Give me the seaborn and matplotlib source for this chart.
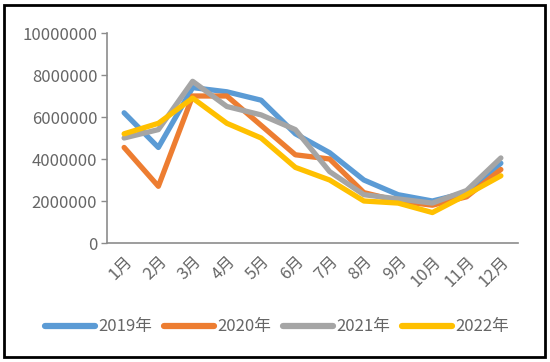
import pandas as pd
import matplotlib.pyplot as plt
import seaborn as sns
from matplotlib.patches import Rectangle

# 数据
months = ["1月", "2月", "3月", "4月", "5月", "6月", "7月", "8月", "9月", "10月", "11月", "12月"]
y2019 = [6200000, 4550000, 7400000, 7200000, 6800000, 5200000, 4300000, 3000000, 2300000, 2000000, 2400000, 3800000]
y2020 = [4550000, 2700000, 7000000, 7000000, 5600000, 4200000, 4000000, 2400000, 2000000, 1800000, 2200000, 3500000]
y2021 = [5000000, 5400000, 7700000, 6500000, 6100000, 5400000, 3400000, 2300000, 2100000, 1900000, 2500000, 4050000]
y2022 = [5200000, 5700000, 6900000, 5700000, 5000000, 3600000, 3000000, 2000000, 1900000, 1450000, 2300000, 3200000]
series = ["2019年", "2020年", "2021年", "2022年"]
colors = ["#5B9BD5", "#ED7D31", "#A5A5A5", "#FFC000"]

df = pd.DataFrame({"月份": months, "2019年": y2019, "2020年": y2020,
                   "2021年": y2021, "2022年": y2022})
df = df.melt(id_vars="月份", var_name="年份", value_name="数量")

sns.set_style("white")
plt.rcParams['font.family'] = ['Noto Sans CJK SC', 'DejaVu Sans']

fig = plt.figure(figsize=(5.5, 3.62), dpi=100)
ax = fig.add_axes([107 / 550, 1 - 243 / 362, 411 / 550, 210 / 362])

sns.lineplot(data=df, x="月份", y="数量", hue="年份", hue_order=series,
             palette=colors, sort=False, linewidth=3.8, ax=ax)

ax.set_xlim(-0.5, 11.5)
ax.set_ylim(0, 10000000)
ax.set_yticks(range(0, 10000001, 2000000))
ax.set_yticklabels([str(v) for v in range(0, 10000001, 2000000)])
ax.set_xlabel("")
ax.set_ylabel("")

for s in ["top", "right"]:
    ax.spines[s].set_visible(False)
for s in ["left", "bottom"]:
    ax.spines[s].set_color("#8C8C8C")
    ax.spines[s].set_linewidth(1.2)

ax.tick_params(axis="y", colors="#666666", labelsize=12, length=4, width=1, left=True,
               color="#8C8C8C", pad=3)
ax.tick_params(axis="x", colors="#666666", labelsize=12, length=0, pad=7)
for lab in ax.get_xticklabels():
    lab.set_rotation(45)
    lab.set_ha("right")
    lab.set_rotation_mode("anchor")

leg = ax.legend(loc="center", ncol=4, frameon=False,
                fontsize=12, handlelength=3.0, handletextpad=0.2, columnspacing=0.7,
                labelcolor="#666666")
leg.set_bbox_to_anchor((277 / 550, 1 - 327 / 362), transform=fig.transFigure)
for line in leg.get_lines():
    line.set_linewidth(4.5)
    line.set_solid_capstyle("round")

# 外边框
fig.patches.append(Rectangle((4 / 550, 5 / 362), 541 / 550, 352 / 362, transform=fig.transFigure,
                             fill=False, edgecolor="black", linewidth=2))

plt.savefig("out.png", dpi=100)
